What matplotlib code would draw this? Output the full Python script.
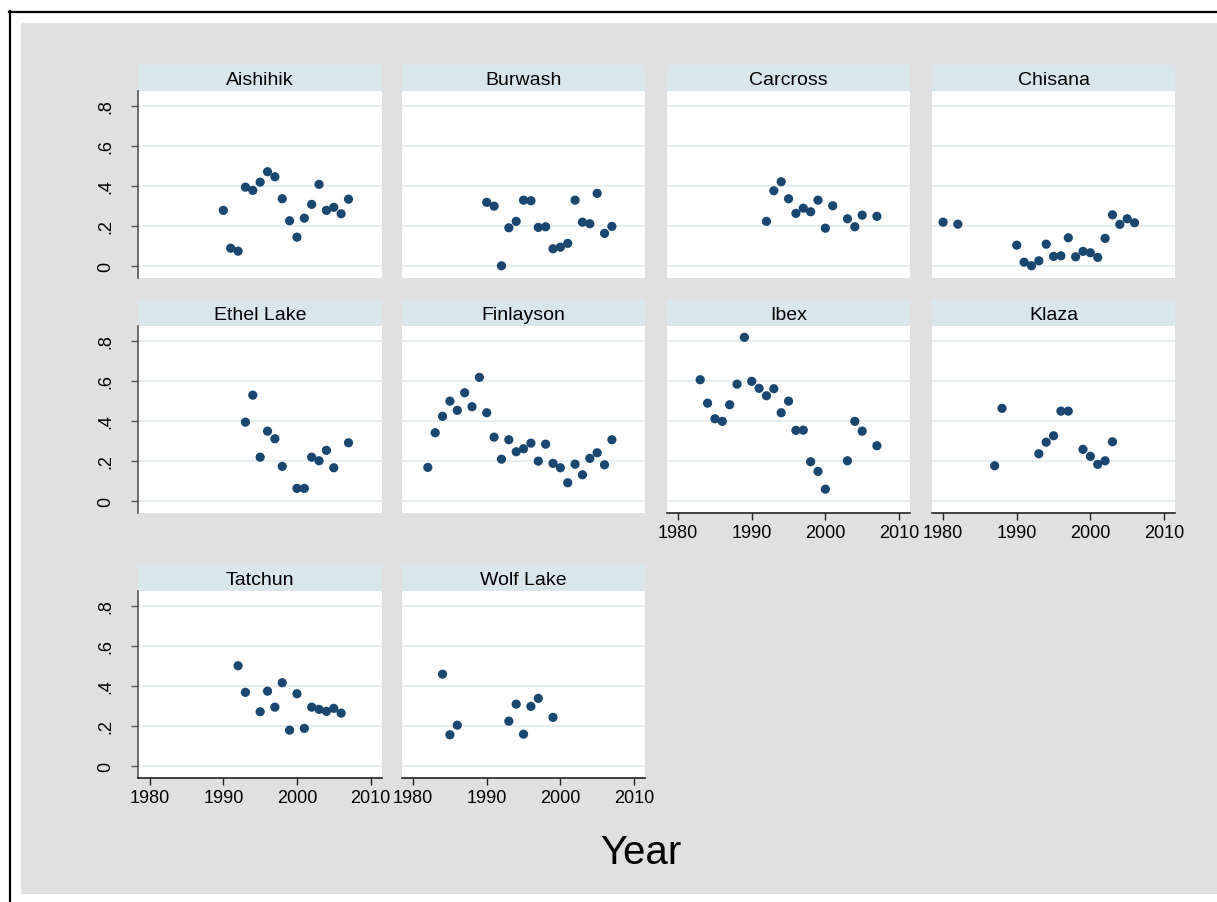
import numpy as np
import matplotlib
matplotlib.use("Agg")
import matplotlib.pyplot as plt
from matplotlib.patches import Rectangle
from matplotlib.lines import Line2D

plt.rcParams['font.family'] = ['Liberation Sans', 'DejaVu Sans']

# station names, in panel order
stations = ["Aishihik", "Burwash", "Carcross", "Chisana", "Ethel Lake",
            "Finlayson", "Ibex", "Klaza", "Tatchun", "Wolf Lake"]

# values
aishihik_yr = [1990, 1991, 1992, 1993, 1994, 1995, 1996, 1997, 1998, 1999,
               2000, 2001, 2002, 2003, 2004, 2005, 2006, 2007]
aishihik_val = [0.277, 0.088, 0.073, 0.393, 0.377, 0.418, 0.47, 0.445, 0.335,
                0.225, 0.143, 0.238, 0.307, 0.407, 0.277, 0.292, 0.26, 0.333]

burwash_yr = [1990, 1991, 1992, 1993, 1994, 1995, 1996, 1997, 1998, 1999,
              2000, 2001, 2002, 2003, 2004, 2005, 2006, 2007]
burwash_val = [0.317, 0.298, 0.0, 0.19, 0.222, 0.328, 0.325, 0.192, 0.195,
               0.085, 0.093, 0.112, 0.328, 0.218, 0.21, 0.362, 0.162, 0.197]

carcross_yr = [1992, 1993, 1994, 1995, 1996, 1997, 1998, 1999, 2000, 2001,
               2003, 2004, 2005, 2007]
carcross_val = [0.222, 0.375, 0.42, 0.335, 0.262, 0.288, 0.27, 0.328, 0.188,
                0.3, 0.235, 0.195, 0.253, 0.247]

chisana_yr = [1980, 1982, 1990, 1991, 1992, 1993, 1994, 1995, 1996, 1997,
              1998, 1999, 2000, 2001, 2002, 2003, 2004, 2005, 2006]
chisana_val = [0.218, 0.208, 0.103, 0.018, 0.0, 0.025, 0.108, 0.047, 0.05,
               0.14, 0.045, 0.072, 0.065, 0.042, 0.137, 0.255, 0.207, 0.235,
               0.215]

ethel_yr = [1993, 1994, 1995, 1996, 1997, 1998, 2000, 2001, 2002, 2003,
            2004, 2005, 2007]
ethel_val = [0.393, 0.528, 0.218, 0.348, 0.31, 0.172, 0.062, 0.062, 0.218,
             0.2, 0.252, 0.165, 0.29]

finlayson_yr = [1982, 1983, 1984, 1985, 1986, 1987, 1988, 1989, 1990, 1991,
                1992, 1993, 1994, 1995, 1996, 1997, 1998, 1999, 2000, 2001,
                2002, 2003, 2004, 2005, 2006, 2007]
finlayson_val = [0.167, 0.34, 0.422, 0.498, 0.452, 0.54, 0.47, 0.617, 0.44,
                 0.318, 0.208, 0.305, 0.245, 0.26, 0.288, 0.198, 0.283,
                 0.187, 0.165, 0.09, 0.183, 0.13, 0.212, 0.24, 0.18, 0.305]

ibex_yr = [1983, 1984, 1985, 1986, 1987, 1988, 1989, 1990, 1991, 1992, 1993,
           1994, 1995, 1996, 1997, 1998, 1999, 2000, 2003, 2004, 2005, 2007]
ibex_val = [0.605, 0.488, 0.41, 0.397, 0.48, 0.583, 0.817, 0.597, 0.562,
            0.525, 0.56, 0.44, 0.498, 0.352, 0.353, 0.195, 0.147, 0.058,
            0.2, 0.397, 0.348, 0.275]

klaza_yr = [1987, 1988, 1993, 1994, 1995, 1996, 1997, 1999, 2000, 2001,
            2002, 2003]
klaza_val = [0.175, 0.462, 0.235, 0.293, 0.325, 0.448, 0.448, 0.257, 0.222,
             0.182, 0.2, 0.295]

tatchun_yr = [1992, 1993, 1995, 1996, 1997, 1998, 1999, 2000, 2001, 2002,
              2003, 2004, 2005, 2006]
tatchun_val = [0.5, 0.367, 0.27, 0.373, 0.293, 0.415, 0.178, 0.36, 0.187,
               0.293, 0.282, 0.272, 0.287, 0.263]

wolf_yr = [1984, 1985, 1986, 1993, 1994, 1995, 1996, 1997, 1999]
wolf_val = [0.458, 0.155, 0.203, 0.223, 0.308, 0.158, 0.297, 0.337, 0.242]

years = [aishihik_yr, burwash_yr, carcross_yr, chisana_yr, ethel_yr,
         finlayson_yr, ibex_yr, klaza_yr, tatchun_yr, wolf_yr]
values = [aishihik_val, burwash_val, carcross_val, chisana_val, ethel_val,
          finlayson_val, ibex_val, klaza_val, tatchun_val, wolf_val]

xticks = [1980, 1990, 2000, 2010]
yticks = [0, 0.2, 0.4, 0.6, 0.8]
ylabels = ["0", ".2", ".4", ".6", ".8"]

W, H = 1217, 903
fig = plt.figure(figsize=(W / 100, H / 100), dpi=100, facecolor='white')

def rect(left, top, w, h):
    return [left / W, 1 - (top + h) / H, w / W, h / H]

# grey graph region and the black frame on the left / top
fig.patches.append(Rectangle((21 / W, 1 - 895 / H), (W - 21) / W, (895 - 24) / H,
                             transform=fig.transFigure, facecolor='#e0e0e0',
                             edgecolor='none', zorder=-10))
fig.lines.append(Line2D([10 / W, 10 / W], [0, 1 - 12 / H], transform=fig.transFigure,
                        color='black', lw=1.6, zorder=-5))
fig.lines.append(Line2D([9 / W, 1], [1 - 13 / H, 1 - 13 / H], transform=fig.transFigure,
                        color='black', lw=1.6, zorder=-5))

col_left = [138.3, 401.7, 666.7, 931.7]
row_top = [92.3, 327.3, 592.3]
pw, ph = 243.7, 186.5
strip_h = 26.3

navy = '#1a476f'

for i, name in enumerate(stations):
    r, c = divmod(i, 4)
    left, top = col_left[c], row_top[r]

    sax = fig.add_axes(rect(left, top - strip_h, pw, strip_h))
    sax.set_facecolor('#d9e6eb')
    sax.set_xticks([])
    sax.set_yticks([])
    for s in sax.spines.values():
        s.set_visible(False)
    sax.text(0.5, 0.45, name, ha='center', va='center', fontsize=14,
             transform=sax.transAxes)

    ax = fig.add_axes(rect(left, top, pw, ph))
    ax.set_facecolor('white')
    ax.set_xlim(1978.45, 2011.55)
    ax.set_ylim(-0.06, 0.872)
    for y in yticks:
        ax.axhline(y, color='#e6eef0', lw=1.4, zorder=1)
    ax.scatter(years[i], values[i], s=44, color=navy, edgecolors='none', zorder=3)

    for s in ax.spines.values():
        s.set_visible(False)

    if c == 0:
        ax.spines['left'].set_visible(True)
        ax.spines['left'].set_color('#555555')
        ax.spines['left'].set_linewidth(1.2)
        ax.set_yticks(yticks)
        ax.set_yticklabels(ylabels, rotation=90, va='center', fontsize=13)
        ax.tick_params(axis='y', length=5, width=1, color='#555555', pad=12)
    else:
        ax.set_yticks([])

    # x axis only where no panel sits below
    if i >= 6:
        ax.spines['bottom'].set_visible(True)
        ax.spines['bottom'].set_color('#222222')
        ax.spines['bottom'].set_linewidth(1.2)
        ax.set_xticks(xticks)
        ax.set_xticklabels([str(x) for x in xticks], fontsize=13)
        ax.tick_params(axis='x', length=5, width=1, color='#222222', pad=3)
    else:
        ax.set_xticks([])

fig.text(641 / W, 1 - 853 / H, "Year", ha='center', va='center', fontsize=29)

fig.savefig("out.png", dpi=100, facecolor=fig.get_facecolor())
